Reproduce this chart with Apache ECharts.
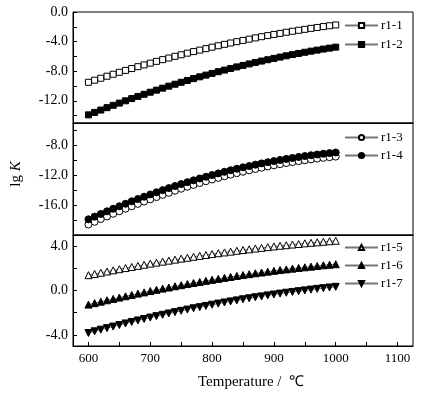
<!DOCTYPE html>
<html><head><meta charset="utf-8">
<script src="https://cdn.jsdelivr.net/npm/echarts@6/dist/echarts.min.js"></script>
<style>html,body{margin:0;padding:0;background:#fff}#c{width:434px;height:398px}</style>
</head><body><div id="c"></div>
<script>
var temps = [600,610,620,630,640,650,660,670,680,690,700,710,720,730,740,750,760,770,780,790,800,810,820,830,840,850,860,870,880,890,900,910,920,930,940,950,960,970,980,990,1000];
var r1_1 = [-9.50,-9.22,-8.95,-8.68,-8.41,-8.15,-7.89,-7.64,-7.39,-7.15,-6.91,-6.67,-6.44,-6.22,-5.99,-5.78,-5.56,-5.35,-5.15,-4.95,-4.75,-4.56,-4.37,-4.19,-4.01,-3.84,-3.67,-3.50,-3.34,-3.19,-3.03,-2.89,-2.74,-2.60,-2.47,-2.34,-2.21,-2.09,-1.97,-1.86,-1.75];
var r1_2 = [-13.90,-13.57,-13.25,-12.93,-12.61,-12.31,-12.00,-11.70,-11.41,-11.12,-10.84,-10.56,-10.29,-10.02,-9.76,-9.50,-9.25,-9.00,-8.76,-8.53,-8.30,-8.07,-7.85,-7.63,-7.42,-7.22,-7.02,-6.82,-6.63,-6.45,-6.27,-6.09,-5.92,-5.76,-5.60,-5.44,-5.29,-5.15,-5.01,-4.88,-4.75];
var r1_3 = [-18.60,-18.23,-17.86,-17.51,-17.16,-16.82,-16.48,-16.15,-15.83,-15.52,-15.22,-14.92,-14.63,-14.35,-14.07,-13.80,-13.54,-13.29,-13.04,-12.80,-12.57,-12.35,-12.13,-11.92,-11.72,-11.53,-11.34,-11.16,-10.99,-10.82,-10.67,-10.52,-10.37,-10.24,-10.11,-9.99,-9.88,-9.77,-9.67,-9.58,-9.50];
var r1_4 = [-17.90,-17.54,-17.18,-16.83,-16.48,-16.15,-15.82,-15.49,-15.18,-14.87,-14.57,-14.28,-13.99,-13.72,-13.44,-13.18,-12.92,-12.68,-12.43,-12.20,-11.97,-11.75,-11.54,-11.33,-11.13,-10.94,-10.76,-10.58,-10.41,-10.25,-10.10,-9.95,-9.81,-9.68,-9.55,-9.43,-9.32,-9.22,-9.12,-9.03,-8.95];
var r1_5 = [1.38,1.49,1.60,1.71,1.82,1.92,2.02,2.12,2.22,2.32,2.42,2.51,2.60,2.69,2.78,2.87,2.95,3.04,3.12,3.20,3.28,3.36,3.43,3.50,3.58,3.65,3.71,3.78,3.84,3.91,3.97,4.03,4.08,4.14,4.19,4.25,4.30,4.34,4.39,4.44,4.48];
var r1_6 = [-1.27,-1.14,-1.01,-0.88,-0.76,-0.64,-0.52,-0.40,-0.28,-0.17,-0.05,0.06,0.17,0.27,0.38,0.48,0.58,0.68,0.77,0.87,0.96,1.05,1.14,1.22,1.31,1.39,1.47,1.55,1.62,1.70,1.77,1.84,1.90,1.97,2.03,2.09,2.15,2.21,2.27,2.32,2.37];
var r1_7 = [-3.83,-3.68,-3.53,-3.39,-3.25,-3.11,-2.97,-2.83,-2.70,-2.57,-2.44,-2.31,-2.19,-2.07,-1.95,-1.83,-1.72,-1.60,-1.50,-1.39,-1.28,-1.18,-1.08,-0.98,-0.89,-0.79,-0.70,-0.61,-0.53,-0.44,-0.36,-0.28,-0.20,-0.13,-0.06,0.01,0.08,0.15,0.21,0.27,0.33];
var xLabels = [600,700,800,900,1000,1100];
var xTicks = [600,650,700,750,800,850,900,950,1000,1050,1100];
var yLabels1 = [0,-4,-8,-12];
var yTicks1 = [0,-2,-4,-6,-8,-10,-12,-14];
var yLabels2 = [-8,-12,-16];
var yTicks2 = [-6,-8,-10,-12,-14,-16,-18];
var yLabels3 = [4,0,-4];
var yTicks3 = [4,2,0,-2,-4];

var FONT = '"Liberation Serif","Times New Roman",serif';
function pairs(ys){ return temps.map(function(t,i){return [t, ys[i]];}); }
function xAx(idx, showLabels){
  return {type:'value', gridIndex:idx, min:575, max:1125,
    axisLine:{show:true, onZero:false, lineStyle:{color:'#000', width:1}},
    axisTick:{show:showLabels, inside:true, length:4, customValues:xTicks, lineStyle:{color:'#000'}},
    axisLabel:{show:showLabels, customValues:xLabels, color:'#000', fontFamily:FONT, fontSize:13, margin:6,
      formatter:function(v){return String(v);}},
    splitLine:{show:false}};
}
function yAx(idx, min, max, labels, ticks){
  return {type:'value', gridIndex:idx, min:min, max:max,
    axisLine:{show:true, onZero:false, lineStyle:{color:'#000', width:1}},
    axisTick:{show:true, inside:true, length:4, customValues:ticks, lineStyle:{color:'#000'}},
    axisLabel:{customValues:labels, color:'#000', fontFamily:FONT, fontSize:14, margin:5,
      formatter:function(v){return v.toFixed(1);}},
    splitLine:{show:false}};
}
function ser(name, data, idx, symbol, size, filled, rotate){
  return {name:name, type:'line', xAxisIndex:idx, yAxisIndex:idx, data:pairs(data),
    symbol:symbol, symbolSize:size, symbolRotate:rotate||0, showSymbol:true,
    lineStyle:{color:'#777', width:1},
    itemStyle:{color: filled ? '#000' : '#fff', borderColor:'#000', borderWidth:1},
    animation:false};
}
function legend(names, top, gap){
  return {data:names, orient:'vertical', left:344, top:top, itemWidth:33, itemHeight:6.5, itemGap:gap,
    textStyle:{color:'#000', fontFamily:FONT, fontSize:13, padding:[0,0,0,-2]}, padding:0};
}
var chart = echarts.init(document.getElementById('c'), null, {renderer:'canvas'});
chart.setOption({
  backgroundColor:'#fff',
  animation:false,
  grid:[
    {left:73, top:12, width:340, height:111, show:true, borderColor:'#000', borderWidth:1, backgroundColor:'transparent'},
    {left:73, top:123, width:340, height:112, show:true, borderColor:'#000', borderWidth:1, backgroundColor:'transparent'},
    {left:73, top:235, width:340, height:111, show:true, borderColor:'#000', borderWidth:1, backgroundColor:'transparent'}
  ],
  xAxis:[xAx(0,false), xAx(1,false), xAx(2,true)],
  yAxis:[yAx(0,-15,0,yLabels1,yTicks1), yAx(1,-20,-5,yLabels2,yTicks2), yAx(2,-5,5,yLabels3,yTicks3)],
  legend:[legend(['r1-1','r1-2'],19,6), legend(['r1-3','r1-4'],131,5), legend(['r1-5','r1-6','r1-7'],241,5)],
  series:[
    ser('r1-1', r1_1, 0, 'rect', 6, false),
    ser('r1-2', r1_2, 0, 'rect', 6, true),
    ser('r1-3', r1_3, 1, 'circle', 7, false),
    ser('r1-4', r1_4, 1, 'circle', 7, true),
    ser('r1-5', r1_5, 2, 'triangle', 7, false),
    ser('r1-6', r1_6, 2, 'triangle', 7, true),
    ser('r1-7', r1_7, 2, 'triangle', 7, true, 180)
  ],
  graphic:[
    {type:'text', x:16, y:174, rotation:Math.PI/2,
      style:{text:'{n|lg }{i|K}', align:'center', verticalAlign:'middle',
        rich:{n:{fontFamily:FONT, fontSize:15, fill:'#000'}, i:{fontFamily:FONT, fontSize:15, fontStyle:'italic', fill:'#000'}}}},
    {type:'text', x:251, y:382,
      style:{text:'Temperature /  ℃', align:'center', verticalAlign:'middle', fontFamily:FONT, fontSize:15, fill:'#000'}}
  ]
});
</script></body></html>
